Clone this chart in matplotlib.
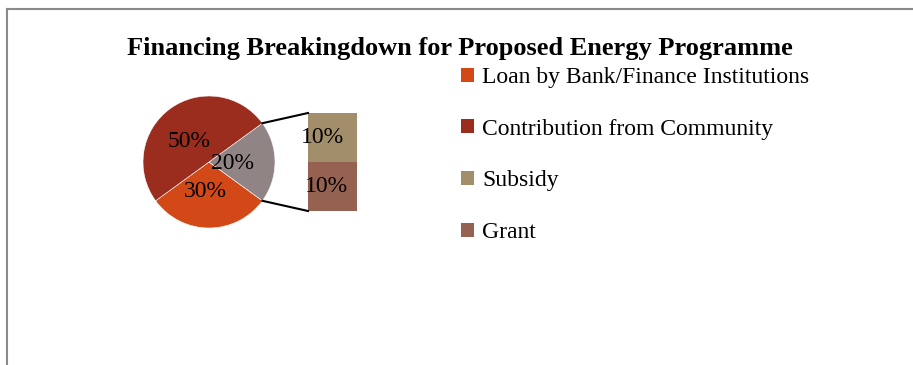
import numpy as np
import matplotlib
matplotlib.use("Agg")
import matplotlib.pyplot as plt
from matplotlib.patches import Patch

title = "Financing Breakingdown for Proposed Energy Programme"
labels = ["Loan by Bank/Finance Institutions", "Contribution from Community", "Subsidy", "Grant"]
values = [30, 50, 10, 10]
colors = ["#D34817", "#9B2D1F", "#A28E6A", "#956251"]
other_color = "#918485"

plt.rcParams['font.family'] = ['Liberation Serif', 'DejaVu Serif']

W, H = 913, 365
fig = plt.figure(figsize=(W / 100, H / 100), dpi=100)
ax = fig.add_axes([0, 0, 1, 1])

# pie: loan, other (subsidy+grant), contribution
other = values[2] + values[3]
pie_vals = [values[0], other, values[1]]
pie_cols = [colors[0], other_color, colors[1]]
cx, cy, r = 209, H - 162, 66
start = 216
wedges, texts, autotexts = ax.pie(pie_vals, colors=pie_cols, startangle=start, center=(cx, cy), radius=r,
                                  autopct=lambda p: "{:.0f}%".format(p), pctdistance=0.42,
                                  wedgeprops=dict(edgecolor="white", linewidth=0.4),
                                  textprops=dict(fontsize=17, color="black"))
for t in autotexts:
    x, y = t.get_position()
    t.set_position((x - 4, y - 2))

# bar of the "other" slice
bx, bw = 332.5, 49
scale = 98 / other
bottom = H - 211
h_grant = values[3] * scale
h_sub = values[2] * scale
ax.bar([bx], [h_grant], width=bw, bottom=bottom, color=colors[3], align="center")
ax.bar([bx], [h_sub], width=bw, bottom=bottom + h_grant, color=colors[2], align="center")
ax.text(bx - 10, bottom + h_grant + h_sub / 2, "{}%".format(values[2]), ha="center", va="center", fontsize=17)
ax.text(bx - 6, bottom + h_grant / 2, "{}%".format(values[3]), ha="center", va="center", fontsize=17)

# connector lines
a1 = np.deg2rad(start + 360 * (values[0] + other) / sum(values))
a2 = np.deg2rad(start + 360 * values[0] / sum(values))
ax.plot([cx + r * np.cos(a1), bx - bw / 2], [cy + r * np.sin(a1), bottom + h_grant + h_sub], color="black", lw=1.5)
ax.plot([cx + r * np.cos(a2), bx - bw / 2], [cy + r * np.sin(a2), bottom], color="black", lw=1.5)

ax.set_xlim(0, W)
ax.set_ylim(0, H)
ax.set_aspect("auto")
ax.axis("off")

# frame lines
ax.plot([7, W], [H - 9, H - 9], color="#8a8a8a", lw=1.5)
ax.plot([7, 7], [0, H - 9], color="#8a8a8a", lw=1.5)

fig.text(460 / W, 1 - 48 / H, title, ha="center", va="center", fontsize=19, fontweight="bold")

handles = [Patch(facecolor=c, edgecolor="none") for c in colors]
ax.legend(handles, labels, loc="upper left", bbox_to_anchor=(461 / W, 1 - 67 / H), frameon=False,
          fontsize=17, handlelength=0.55, handleheight=0.55, handletextpad=0.35, labelspacing=1.3,
          borderpad=0, borderaxespad=0)

plt.savefig("out.png", dpi=100)
